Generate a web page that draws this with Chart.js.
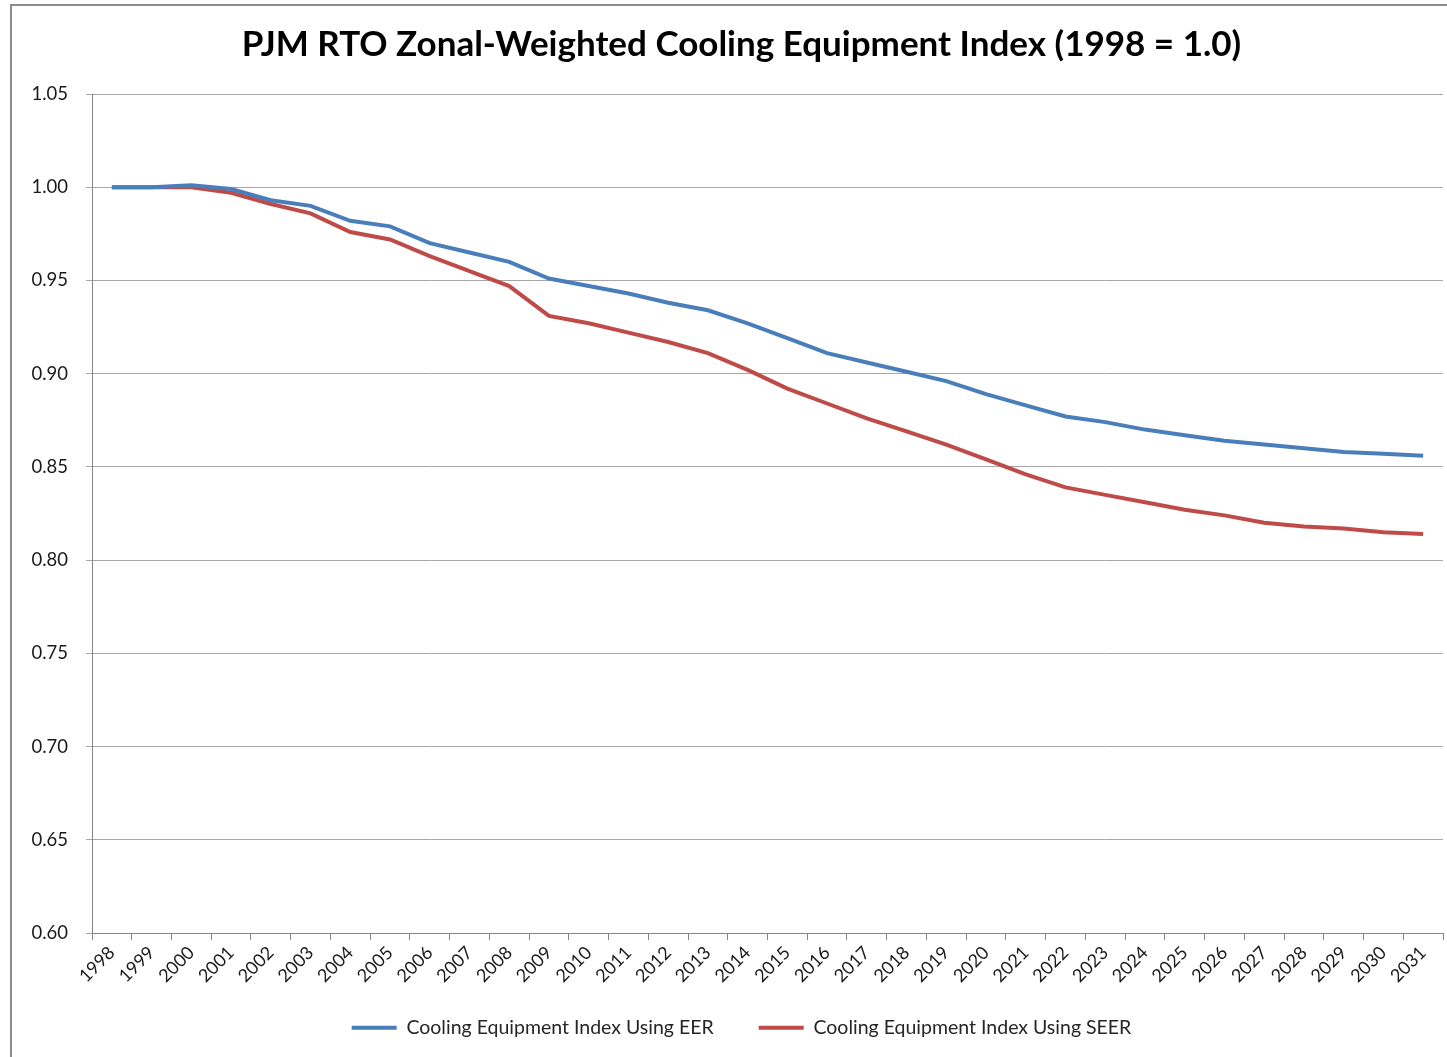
<!DOCTYPE html>
<html>
<head>
<meta charset="utf-8">
<script src="https://cdn.jsdelivr.net/npm/chart.js@4.4.1/dist/chart.umd.min.js"></script>
<style>
  html, body { margin: 0; padding: 0; background: #fff; overflow: hidden; }
  #frame { position: absolute; left: 10px; top: 4px; width: 1460px; height: 1100px; border: 2px solid #8c8c8c; }
  #wrap { position: absolute; left: 0; top: 0; width: 1447px; height: 1057px; }
</style>
</head>
<body>
<div id="frame"></div>
<div id="wrap"><canvas id="cooling-chart"></canvas></div>
<script>
// data
const years = [
  "1998", "1999", "2000", "2001", "2002", "2003", "2004", "2005", "2006", "2007",
  "2008", "2009", "2010", "2011", "2012", "2013", "2014", "2015", "2016", "2017",
  "2018", "2019", "2020", "2021", "2022", "2023", "2024", "2025", "2026", "2027",
  "2028", "2029", "2030", "2031"
];
const eerIndex = [
  1.000, 1.000, 1.001, 0.999, 0.993, 0.990, 0.982, 0.979, 0.970, 0.965,
  0.960, 0.951, 0.947, 0.943, 0.938, 0.934, 0.927, 0.919, 0.911, 0.906,
  0.901, 0.896, 0.889, 0.883, 0.877, 0.874, 0.870, 0.867, 0.864, 0.862,
  0.860, 0.858, 0.857, 0.856
];
const seerIndex = [
  1.000, 1.000, 1.000, 0.997, 0.991, 0.986, 0.976, 0.972, 0.963, 0.955,
  0.947, 0.931, 0.927, 0.922, 0.917, 0.911, 0.902, 0.892, 0.884, 0.876,
  0.869, 0.862, 0.854, 0.846, 0.839, 0.835, 0.831, 0.827, 0.824, 0.820,
  0.818, 0.817, 0.815, 0.814
];
const seriesNames = ["Cooling Equipment Index Using EER", "Cooling Equipment Index Using SEER"];
const titleText = "PJM RTO Zonal-Weighted Cooling Equipment Index (1998 = 1.0)";

const blue = "#4a7ebb";
const red = "#be4b48";
const padLeft = 40;
const padRight = 4;

// tick labels of both axes spill outside their boxes, so no clipping
const noClip = (s) => { s._computeLabelArea = () => undefined; };

const data = {
  labels: years,
  datasets: [
    {
      label: seriesNames[0],
      data: eerIndex,
      borderColor: blue,
      backgroundColor: blue,
      borderWidth: 4,
      pointRadius: 0,
      tension: 0,
    },
    {
      label: seriesNames[1],
      data: seerIndex,
      borderColor: red,
      backgroundColor: red,
      borderWidth: 4,
      pointRadius: 0,
      tension: 0,
    },
  ],
};

const config = {
  type: "line",
  data,
  options: {
    responsive: false,
    animation: false,
    layout: { padding: { left: padLeft, right: padRight, top: 0, bottom: 9.5 } },
    plugins: {
      title: {
        display: true,
        text: titleText,
        color: "#000",
        font: { family: "Lato", size: 35, weight: "bold" },
        padding: { top: 24, bottom: 28 },
      },
      legend: {
        position: "bottom",
        labels: {
          color: "#262626",
          font: { family: "Lato", size: 19.5 },
          boxWidth: 45,
          boxHeight: 4,
          padding: 45,
          generateLabels: (chart) =>
            Chart.defaults.plugins.legend.labels.generateLabels(chart).map((item) => {
              item.lineWidth = 0;
              return item;
            }),
        },
      },
      tooltip: { enabled: false },
    },
    scales: {
      x: {
        offset: true,
        afterFit: (s) => { s.height = 40; noClip(s); },
        grid: { offset: true, drawOnChartArea: false, drawTicks: true, tickLength: 7, color: "#868686" },
        border: { color: "#868686" },
        ticks: {
          color: "#1a1a1a",
          font: { family: "Lato", size: 18 },
          minRotation: 45,
          maxRotation: 45,
          autoSkip: false,
          padding: 2,
        },
      },
      y: {
        min: 0.6,
        max: 1.05,
        afterFit: (s) => { s.width = 92 - padLeft; noClip(s); },
        grid: { color: "#a6a6a6", tickLength: 6, drawTicks: true },
        border: { color: "#868686" },
        ticks: {
          stepSize: 0.05,
          color: "#1a1a1a",
          font: { family: "Lato", size: 18.5 },
          padding: 18,
          callback: (v) => Number(v).toFixed(2),
        },
      },
    },
  },
};

const canvas = document.getElementById("cooling-chart");
canvas.width = 1447;
canvas.height = 1057;
new Chart(canvas, config);
</script>
</body>
</html>
